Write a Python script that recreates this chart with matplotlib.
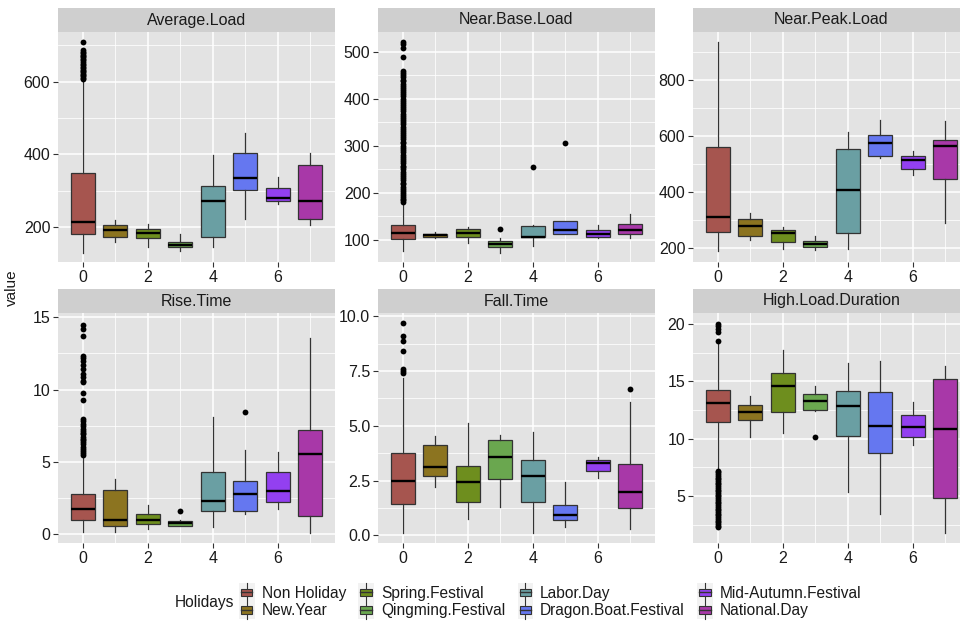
import matplotlib
matplotlib.use("Agg")
import matplotlib.pyplot as plt
from matplotlib.patches import Rectangle
from matplotlib.lines import Line2D
from matplotlib.legend_handler import HandlerBase
from matplotlib.ticker import MultipleLocator, FormatStrFormatter

plt.rcParams["font.family"] = ["Liberation Sans", "DejaVu Sans"]

HOLIDAYS = ["Non Holiday", "New.Year", "Spring.Festival", "Qingming.Festival",
            "Labor.Day", "Dragon.Boat.Festival", "Mid-Autumn.Festival", "National.Day"]
COLORS = ["#A6554F", "#8C7420", "#6E8E1E", "#6AA74F",
          "#6A9FA3", "#6577F0", "#9340F0", "#A838A8"]
POSITIONS = [0, 1, 2, 3, 4, 5, 6, 7]

PANELS = ["Average.Load", "Near.Base.Load", "Near.Peak.Load",
          "Rise.Time", "Fall.Time", "High.Load.Duration"]

# (whisker low, q1, median, q3, whisker high) per holiday
AVERAGE_LOAD = [(130, 180, 213, 350, 600), (160, 173, 191, 206, 220), (145, 171, 184, 194, 209),
                (133, 144, 152, 160, 180), (145, 173, 273, 312, 398), (222, 303, 334, 405, 458),
                (264, 271, 280, 309, 339), (205, 221, 273, 372, 403)]
NEAR_BASE_LOAD = [(77, 101, 114, 132, 179), (104, 106, 110, 113, 116), (93, 106, 115, 123, 128),
                  (73, 84, 92, 98, 104), (88, 106, 107, 130, 132), (113, 113, 121, 140, 140),
                  (103, 106, 113, 122, 132), (103, 113, 121, 134, 155)]
NEAR_PEAK_LOAD = [(189, 256, 309, 560, 936), (230, 244, 277, 302, 325), (198, 221, 252, 265, 276),
                  (192, 205, 214, 224, 243), (198, 253, 407, 554, 615), (522, 530, 573, 603, 657),
                  (460, 482, 513, 530, 547), (290, 445, 563, 586, 652)]
RISE_TIME = [(0.14, 0.99, 1.70, 2.76, 5.42), (0.14, 0.57, 0.96, 3.03, 3.79), (0.37, 0.69, 0.99, 1.40, 2.0),
             (0.55, 0.57, 0.76, 0.87, 0.96), (0.5, 1.59, 2.30, 4.27, 8.1), (1.36, 1.61, 2.78, 3.65, 5.79),
             (1.70, 2.25, 2.96, 4.27, 5.70), (0.09, 1.24, 5.56, 7.21, 13.58)]
FALL_TIME = [(0.12, 1.44, 2.47, 3.76, 7.17), (2.20, 2.70, 3.12, 4.11, 4.52), (0.73, 1.52, 2.42, 3.17, 5.11),
             (1.29, 2.55, 3.56, 4.35, 4.59), (0.12, 1.52, 2.71, 3.42, 4.70), (0.38, 0.71, 0.91, 1.39, 2.45),
             (2.61, 2.92, 3.30, 3.44, 3.58), (0.27, 1.23, 2.0, 3.24, 6.09)]
HIGH_LOAD_DURATION = [(7.26, 11.43, 13.08, 14.27, 18.35), (10.1, 11.66, 12.33, 12.9, 13.75),
                      (10.53, 12.33, 14.56, 15.7, 17.74), (12.41, 12.53, 13.25, 13.92, 14.56),
                      (5.35, 10.21, 12.85, 14.18, 16.58), (3.38, 8.76, 11.11, 14.09, 16.73),
                      (9.4, 10.15, 10.97, 12.04, 13.2), (1.76, 4.8, 10.82, 15.19, 16.3)]

# outliers, keyed by holiday index
AVERAGE_LOAD_OUT = {0: [608, 611, 615, 618, 622, 626, 630, 633, 637, 641, 645, 650, 654,
                        659, 663, 667, 671, 675, 679, 683, 687, 709]}
NEAR_BASE_LOAD_OUT = {0: [181, 184, 188, 192, 196, 200, 205, 209, 213, 218, 222, 227, 231, 236,
                          240, 245, 250, 254, 258, 263, 268, 272, 277, 281, 286, 291, 296, 300,
                          305, 309, 314, 318, 322, 327, 331, 336, 340, 346, 350, 355, 360, 364,
                          368, 373, 378, 382, 387, 392, 396, 400, 405, 410, 414, 418, 423, 428,
                          432, 437, 441, 446, 450, 455, 459, 488, 507, 516, 521],
                      3: [123], 4: [255], 5: [305]}
NEAR_PEAK_LOAD_OUT = {}
RISE_TIME_OUT = {0: [5.5, 5.6, 5.75, 5.9, 6.0, 6.2, 6.35, 6.5, 6.6, 6.75, 6.9, 7.0, 7.15, 7.3,
                     7.45, 7.6, 7.8, 7.95, 9.26, 9.79, 10.5, 10.6, 10.85, 11.1, 11.4, 11.7,
                     11.95, 12.2, 12.35, 13.7, 14.2, 14.5],
                 3: [1.59], 5: [8.45]}
FALL_TIME_OUT = {0: [7.42, 7.5, 7.58, 8.42, 8.85, 9.09, 9.68], 7: [6.68]}
HIGH_LOAD_DURATION_OUT = {0: [18.55, 19.33, 19.6, 19.86, 20.0, 7.2, 7.05, 6.9, 6.75, 6.6, 6.45,
                              6.3, 6.15, 6.0, 5.85, 5.7, 5.55, 5.4, 5.25, 5.1, 4.95, 4.8, 4.65,
                              4.5, 4.35, 4.2, 4.05, 3.9, 3.75, 3.6, 3.45, 3.3, 3.15, 3.0, 2.85,
                              2.7, 2.55, 2.4, 2.25],
                          3: [10.15]}

PANEL_STATS = [AVERAGE_LOAD, NEAR_BASE_LOAD, NEAR_PEAK_LOAD, RISE_TIME, FALL_TIME, HIGH_LOAD_DURATION]
PANEL_OUT = [AVERAGE_LOAD_OUT, NEAR_BASE_LOAD_OUT, NEAR_PEAK_LOAD_OUT,
             RISE_TIME_OUT, FALL_TIME_OUT, HIGH_LOAD_DURATION_OUT]
YLIMS = [(104, 737), (53, 542), (150, 971), (-0.62, 15.3), (-0.35, 10.15), (0.89, 20.96)]
YSTEPS = [200, 100, 200, 5, 2.5, 5]

W, H = 960, 622
BG = "#E3E3E3"
STRIP = "#CFCFCF"
EDGE = "#333333"
TXT = "#1A1A1A"


class BoxKey(HandlerBase):
    def create_artists(self, legend, orig_handle, xdescent, ydescent, width, height, fontsize, trans):
        bg = Rectangle((-xdescent, -ydescent - 2), width, height + 4, facecolor="#F2F2F2",
                       edgecolor="none", transform=trans)
        cx = -xdescent + width / 2
        line = Line2D([cx, cx], [-ydescent - 2, -ydescent + height + 2], color=EDGE, lw=0.8, transform=trans)
        box = Rectangle((-xdescent + 1.5, -ydescent + height * 0.2), width - 3, height * 0.6,
                        facecolor=orig_handle.get_facecolor(), edgecolor=EDGE, lw=0.8, transform=trans)
        med = Line2D([-xdescent + 1.5, -xdescent + width - 1.5], [-ydescent + height / 2] * 2,
                     color=EDGE, lw=1.0, transform=trans)
        return [bg, line, box, med]


fig = plt.figure(figsize=(W / 100, H / 100), dpi=100)

col_left = [58, 378, 693]
row_top = [32, 313]
panel_w, panel_h = 277, 230
strip_h = 24

for i, name in enumerate(PANELS):
    r, c = divmod(i, 3)
    left, top = col_left[c], row_top[r]
    ax = fig.add_axes([left / W, 1 - (top + panel_h) / H, panel_w / W, panel_h / H])
    ax.set_facecolor(BG)
    for s in ax.spines.values():
        s.set_visible(False)

    stats = []
    for k, (lo, q1, med, q3, hi) in enumerate(PANEL_STATS[i]):
        stats.append({"whislo": lo, "q1": q1, "med": med, "q3": q3, "whishi": hi,
                      "fliers": PANEL_OUT[i].get(k, [])})
    bp = ax.bxp(stats, positions=POSITIONS, widths=0.75, patch_artist=True, showcaps=False,
                boxprops={"edgecolor": EDGE, "linewidth": 0.9},
                whiskerprops={"color": EDGE, "linewidth": 0.9},
                medianprops={"color": "black", "linewidth": 1.7},
                flierprops={"marker": "o", "markerfacecolor": "black", "markeredgecolor": "none",
                            "markersize": 4.2},
                manage_ticks=False, zorder=3)
    for patch, col in zip(bp["boxes"], COLORS):
        patch.set_facecolor(col)

    ax.set_xlim(-0.76, 7.76)
    ax.set_ylim(*YLIMS[i])
    ax.xaxis.set_major_locator(MultipleLocator(2))
    ax.xaxis.set_minor_locator(MultipleLocator(1))
    ax.yaxis.set_major_locator(MultipleLocator(YSTEPS[i]))
    ax.yaxis.set_minor_locator(MultipleLocator(YSTEPS[i] / 2))
    if name == "Fall.Time":
        ax.yaxis.set_major_formatter(FormatStrFormatter("%.1f"))
    ax.grid(which="major", color="white", linewidth=1.1, zorder=0)
    ax.grid(which="minor", color="white", linewidth=0.55, zorder=0)
    ax.set_axisbelow(True)
    ax.tick_params(which="major", length=3.5, width=0.8, color="#333333", labelsize=11.5,
                   labelcolor=TXT, pad=2)
    ax.tick_params(which="minor", length=0)

    ax.add_patch(Rectangle((0, 1), 1, strip_h / panel_h, transform=ax.transAxes, facecolor=STRIP,
                           edgecolor="none", clip_on=False))
    ax.text(0.5, 1 + strip_h / panel_h / 2, name, transform=ax.transAxes, ha="center", va="center",
            fontsize=11.5, color=TXT)

fig.text(12 / W, 1 - 288 / H, "value", rotation=90, ha="center", va="center", fontsize=11, color=TXT)

handles = [Rectangle((0, 0), 1, 1, facecolor=c) for c in COLORS]
fig.text(175 / W, 1 - 603 / H, "Holidays", ha="left", va="center", fontsize=11.2, color=TXT)
fig.legend(handles, HOLIDAYS, handler_map={Rectangle: BoxKey()}, ncol=4, frameon=False,
           loc="center left", bbox_to_anchor=(239 / W, 1 - 602 / H), fontsize=11.2,
           handlelength=1.0, handleheight=0.9, handletextpad=0.45, columnspacing=0.8,
           labelspacing=0.15, borderpad=0, borderaxespad=0, labelcolor=TXT)

fig.savefig("out.png", dpi=100)
